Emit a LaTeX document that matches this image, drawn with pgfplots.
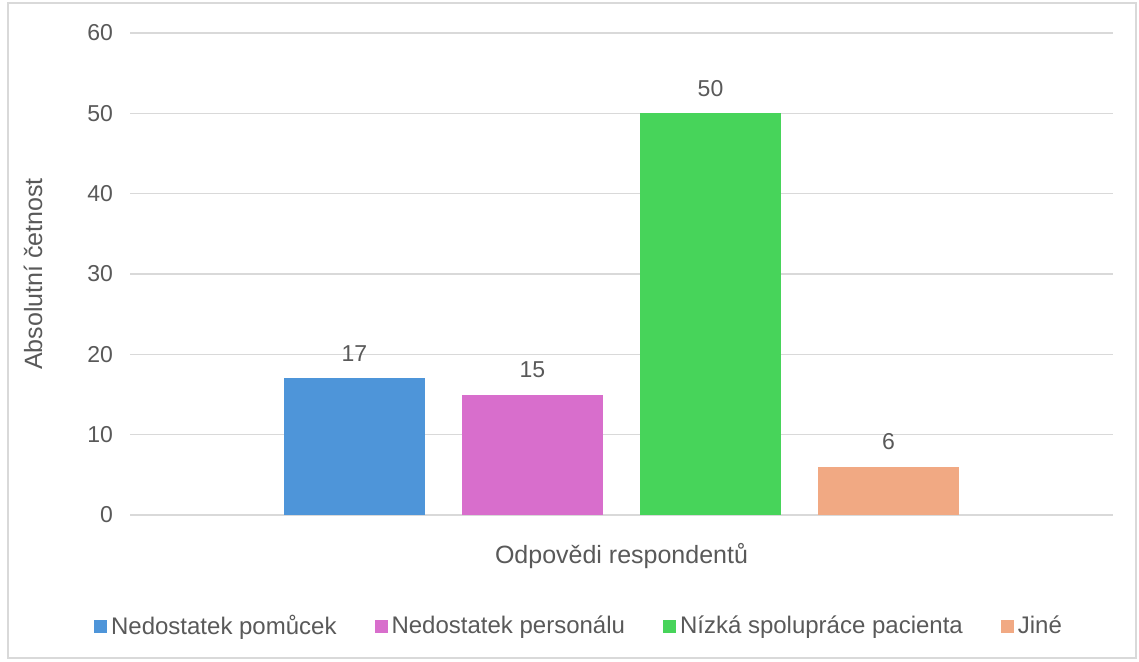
\documentclass[border=0pt]{standalone}
\usepackage{fontspec}
\setmainfont{Liberation Sans}
\usepackage{pgfplots}
\pgfplotsset{compat=1.18}

\definecolor{txt}{HTML}{595959}
\definecolor{gridc}{HTML}{D9D9D9}
\definecolor{frame}{HTML}{D9D9D9}
\definecolor{cblue}{HTML}{4E95D9}
\definecolor{cpink}{HTML}{D86ECC}
\definecolor{cgreen}{HTML}{47D45A}
\definecolor{corange}{HTML}{F1A983}

\begin{document}
\begin{tikzpicture}
  % 1 px of the reference = 0.5pt
  \useasboundingbox (0,0) rectangle (569.5pt,330.5pt);
  \draw[frame, line width=0.6pt] (4pt,1.5pt) rectangle (568pt,329pt);
  \begin{axis}[
      at={(65pt,73pt)}, anchor=south west,
      scale only axis,
      width=491.5pt, height=241pt,
      xmin=-2.761, xmax=2.761,
      ymin=0, ymax=60,
      ytick={0,10,...,60},
      xtick=\empty,
      /pgf/number format/assume math mode=true,
      axis line style={draw=none},
      major tick length=0pt,
      ymajorgrids=true,
      grid style={gridc, line width=0.7pt},
      ticklabel style={font=\fontsize{11.5}{13}\selectfont, text=txt},
      yticklabel style={xshift=-5pt},
      ylabel={Absolutní četnost},
      xlabel={Odpovědi respondentů},
      label style={font=\fontsize{12.5}{15}\selectfont, text=txt},
      ylabel style={at={(axis description cs:-0.0987,0.5)}, anchor=center},
      xlabel style={at={(axis description cs:0.5,-0.085)}, anchor=center},
      ybar, bar width=70.5pt, bar shift=0pt,
      nodes near coords,
      every node near coord/.append style={font=\fontsize{11.5}{13}\selectfont, text=txt, yshift=5pt},
      legend columns=4,
      legend style={
        at={(axis description cs:0.4578,-0.2303)}, anchor=center,
        draw=none, fill=none,
        font=\fontsize{12}{14}\selectfont, text=txt,
        /tikz/every even column/.append style={column sep=17pt},
      },
      legend image code/.code={\fill[#1] (0pt,-3.25pt) rectangle (6.5pt,3.25pt);},
    ]
    \addplot[fill=cblue, draw=none] coordinates {(-1.5,17)};
    \addplot[fill=cpink, draw=none] coordinates {(-0.5,15)};
    \addplot[fill=cgreen, draw=none] coordinates {(0.5,50)};
    \addplot[fill=corange, draw=none] coordinates {(1.5,6)};
    \legend{Nedostatek pomůcek, Nedostatek personálu, Nízká spolupráce pacienta, Jiné}
  \end{axis}
\end{tikzpicture}
\end{document}
